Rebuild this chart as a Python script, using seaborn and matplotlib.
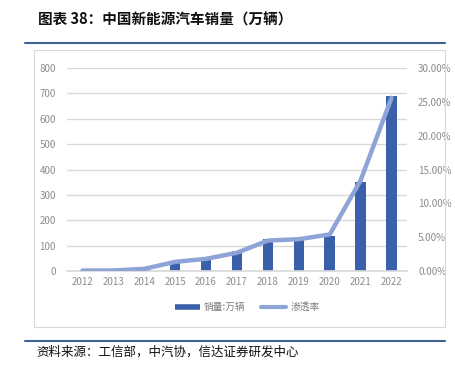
import numpy as np
import pandas as pd
import matplotlib
matplotlib.use('Agg')
from matplotlib import pyplot as plt
from matplotlib.lines import Line2D
import seaborn as sns

years = ['2012', '2013', '2014', '2015', '2016', '2017', '2018', '2019', '2020', '2021', '2022']
sales = [1.3, 1.8, 7.5, 33.1, 50.7, 77.7, 125.6, 120.6, 136.7, 352.1, 688.7]
penetration = [0.07, 0.08, 0.32, 1.35, 1.8, 2.7, 4.5, 4.7, 5.4, 13.4, 25.6]

df = pd.DataFrame({'year': years, 'sales': sales, 'rate': penetration})

sns.set_theme(style='white')
plt.rcParams['font.family'] = ['Noto Sans CJK SC', 'DejaVu Sans']

bar_color = '#3A60A9'
line_color = '#8EA4D7'
tick_color = '#8C8C8C'

fig = plt.figure(figsize=(4.55, 3.67), dpi=100)

#chart area
ax = fig.add_axes([67 / 455, 1 - 271 / 367, 340 / 455, 203 / 367])
sns.barplot(data=df, x='year', y='sales', color=bar_color, width=0.34,
            saturation=1, linewidth=0, ax=ax, zorder=2)
ax.set_ylim(0, 800)
ax.set_yticks(np.arange(0, 801, 100))
ax.yaxis.grid(True, color='#D9D9D9', linewidth=1, zorder=0)
ax.set_axisbelow(True)
ax.set_xlabel('')
ax.set_ylabel('')
for s in ax.spines.values():
    s.set_visible(False)
ax.spines['bottom'].set_visible(True)
ax.spines['bottom'].set_color('#D9D9D9')
ax.tick_params(axis='both', colors=tick_color, labelsize=7, length=0, pad=4)
ax.tick_params(axis='y', pad=8)

ax2 = ax.twinx()
ax2.plot(range(len(years)), df['rate'], color=line_color, linewidth=3.2,
         solid_capstyle='round', solid_joinstyle='round', zorder=3)
ax2.set_ylim(0, 30)
ax2.set_yticks(np.arange(0, 31, 5))
ax2.set_yticklabels([f'{v:.2f}%' for v in np.arange(0, 31, 5)])
for s in ax2.spines.values():
    s.set_visible(False)
ax2.tick_params(axis='y', colors=tick_color, labelsize=7, length=0, pad=8)
ax2.grid(False)
ax.set_xlim(-0.5, len(years) - 0.5)

#legend
handles = [Line2D([0], [0], color=bar_color, linewidth=4, solid_capstyle='butt'),
           Line2D([0], [0], color=line_color, linewidth=3, solid_capstyle='round')]
leg = fig.legend(handles, ['销量:万辆', '渗透率'], loc='center',
                 bbox_to_anchor=(247 / 455, 1 - 307 / 367), ncol=2, frameon=False,
                 fontsize=7, handlelength=2.6, columnspacing=1.6, handletextpad=0.4)
for t in leg.get_texts():
    t.set_color('#7F7F7F')

#chart border
fig.patches.append(plt.Rectangle((34 / 455, 1 - 327 / 367), 411 / 455, 277 / 367,
                                 transform=fig.transFigure, fill=False,
                                 edgecolor='#D9D9D9', linewidth=0.8))

#title and source
fig.text(38 / 455, 1 - 20 / 367, '图表 38：中国新能源汽车销量（万辆）', fontsize=10.5,
         fontweight='bold', va='center', ha='left', color='#111111')
fig.add_artist(Line2D([25 / 455, 445 / 455], [1 - 43 / 367, 1 - 43 / 367],
                      color='#3E6593', linewidth=1.5, transform=fig.transFigure))
fig.add_artist(Line2D([25 / 455, 445 / 455], [1 - 341 / 367, 1 - 341 / 367],
                      color='#3E6593', linewidth=1.5, transform=fig.transFigure))
fig.text(36 / 455, 1 - 352 / 367, '资料来源：工信部，中汽协，信达证券研发中心', fontsize=9,
         va='center', ha='left', color='#111111', fontstyle='italic')

fig.savefig('out.png', dpi=100)
